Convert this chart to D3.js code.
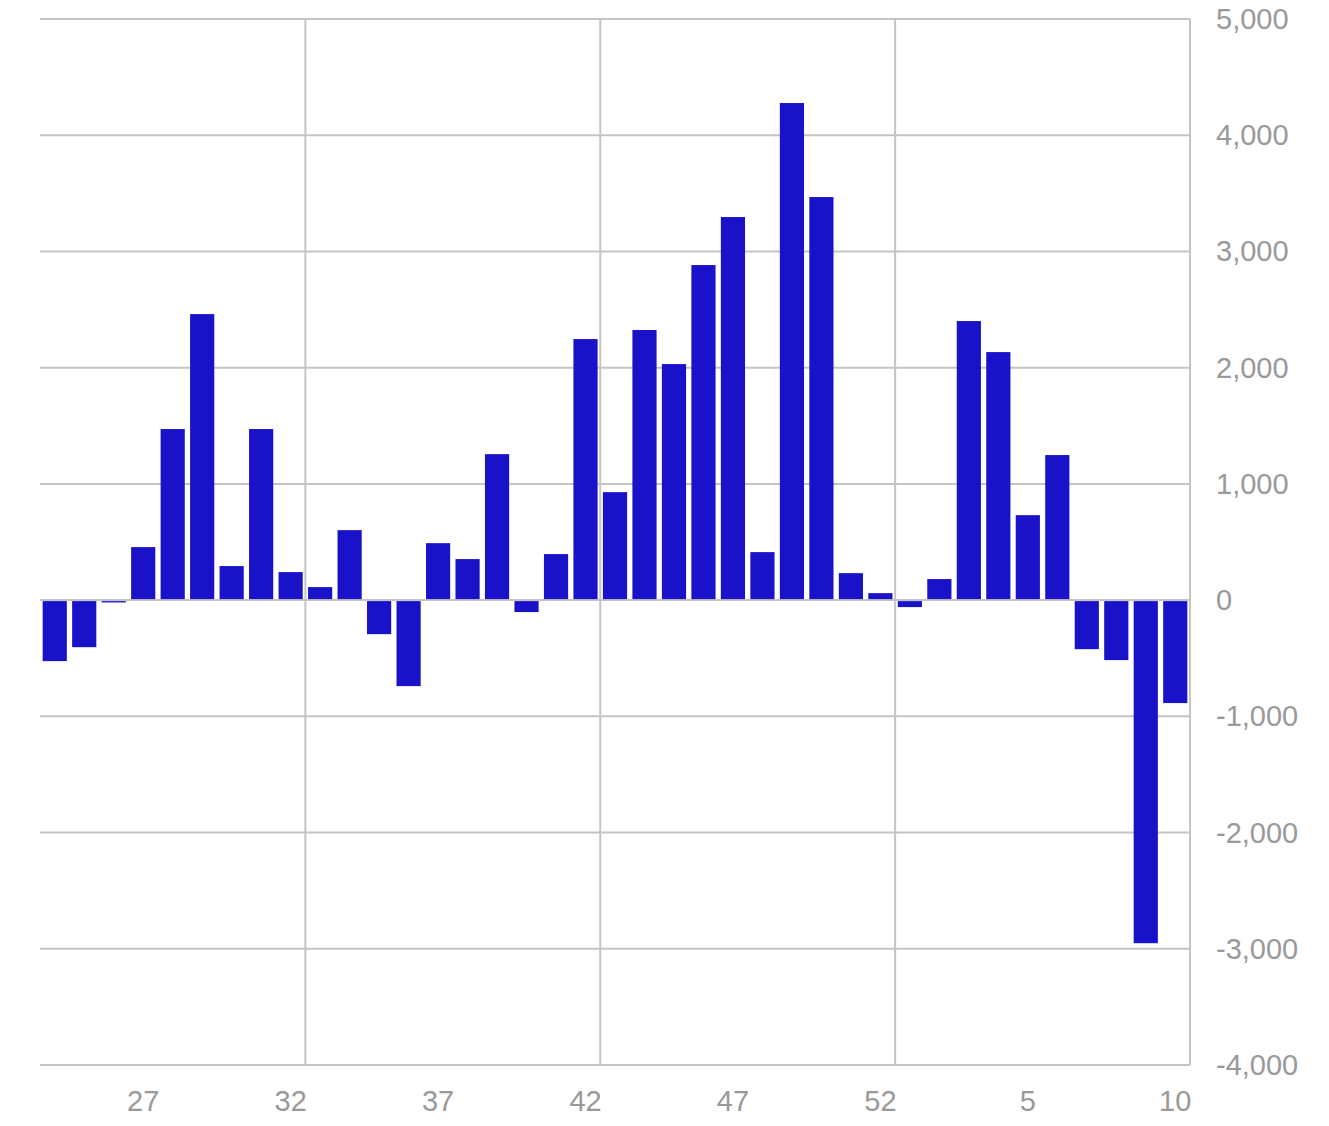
<!DOCTYPE html>
<html>
<head>
<meta charset="utf-8">
<script src="https://cdn.jsdelivr.net/npm/d3@7"></script>
<style>
  html, body { margin: 0; padding: 0; background: #fff; }
  svg { display: block; }
  text { font-family: "Liberation Sans", Arial, sans-serif; fill: #999; }
</style>
</head>
<body>
<svg id="chart" width="1329" height="1126"></svg>
<script>
const weeks = [24,25,26,27,28,29,30,31,32,33,34,35,36,37,38,39,40,41,42,43,44,45,46,47,48,49,50,51,52,1,2,3,4,5,6,7,8,9,10];
const values = [-525,-405,-20,456,1472,2461,293,1472,241,112,602,-293,-740,490,353,1256,-103,396,2246,929,2324,2031,2883,3296,413,4277,3468,232,60,-60,181,2401,2134,731,1248,-422,-516,-2952,-886];
const xTickLabels = [27,32,37,42,47,52,5,10];
const yTicks = [5000,4000,3000,2000,1000,0,-1000,-2000,-3000,-4000];
const gridWeeks = [32,42,52]; // vertical gridlines at right edge of these weeks

const svg = d3.select("#chart");
const pLeft = 40, pRight = 1190, pTop = 19, pBottom = 1065;
const keys = weeks.map((w, i) => i);

const x = d3.scaleBand().domain(keys).range([pLeft, pRight]).paddingInner(0.18).paddingOuter(0.09);
const y = d3.scaleLinear().domain([-4000, 5000]).range([pBottom, pTop]);

const grid = svg.append("g").attr("stroke", "#c4c4c4").attr("stroke-width", 2);
grid.selectAll("line.h").data(yTicks).join("line")
  .attr("x1", pLeft).attr("x2", pRight)
  .attr("y1", d => y(d)).attr("y2", d => y(d));
const step = x.step();
const idxOf = w => weeks.indexOf(w);
const vIdx = gridWeeks.map(idxOf).concat([weeks.length - 1]);
grid.selectAll("line.v").data(vIdx).join("line")
  .attr("x1", i => x(i) + x.bandwidth() + (step - x.bandwidth()) / 2)
  .attr("x2", i => x(i) + x.bandwidth() + (step - x.bandwidth()) / 2)
  .attr("y1", pTop).attr("y2", pBottom);

svg.append("g").selectAll("rect").data(values).join("rect")
  .attr("x", (d, i) => x(i))
  .attr("width", x.bandwidth())
  .attr("y", d => d >= 0 ? y(d) : y(0) + 1)
  .attr("height", d => Math.max(1, Math.abs(y(d) - y(0)) - 1))
  .attr("fill", "#1a12c8");

const fmt = d3.format(",");
svg.append("g").selectAll("text").data(yTicks).join("text")
  .attr("x", 1216).attr("y", d => y(d))
  .attr("dominant-baseline", "central")
  .attr("font-size", 29)
  .text(d => fmt(d).replace("\u2212", "-"));

svg.append("g").selectAll("text").data(xTickLabels).join("text")
  .attr("x", w => x(idxOf(w)) + x.bandwidth() / 2)
  .attr("y", 1101)
  .attr("dominant-baseline", "central")
  .attr("text-anchor", "middle")
  .attr("font-size", 29)
  .text(d => d);
</script>
</body>
</html>
